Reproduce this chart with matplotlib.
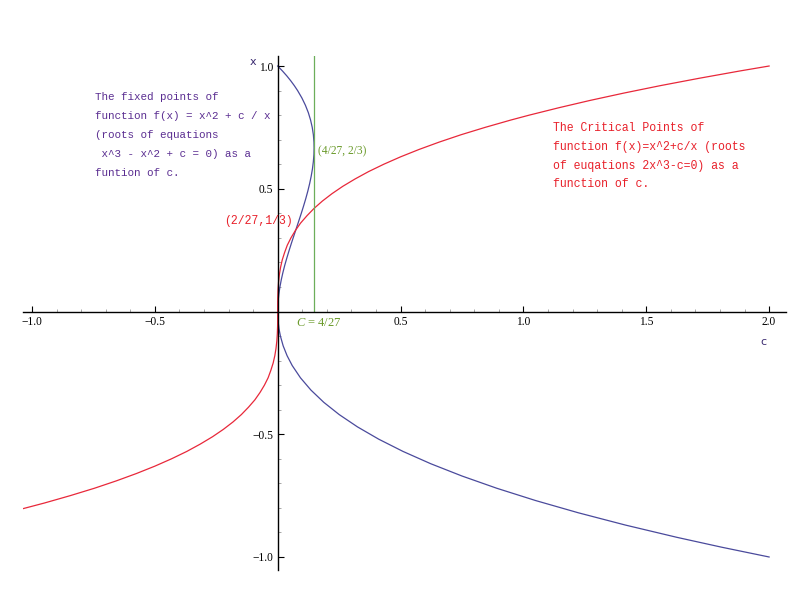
import numpy as np
import matplotlib
matplotlib.use("Agg")
import matplotlib.pyplot as plt
from matplotlib.ticker import MultipleLocator, FixedLocator

#%% Data

# red curve: critical points, x vs c
red_x = [-0.804, -0.78, -0.75, -0.72, -0.69, -0.66, -0.63, -0.60, -0.57, -0.54, -0.51, -0.48, -0.45,
         -0.42, -0.39, -0.36, -0.33, -0.30, -0.27, -0.24, -0.21, -0.18, -0.15, -0.12, -0.09, -0.06, -0.03,
         0.0,
         0.03, 0.06, 0.09, 0.12, 0.15, 0.18, 0.21, 0.24, 0.27, 0.30, 0.33, 0.36, 0.39, 0.42, 0.45,
         0.48, 0.51, 0.54, 0.57, 0.60, 0.63, 0.66, 0.69, 0.72, 0.75, 0.78, 0.80, 0.83, 0.86, 0.89,
         0.92, 0.95, 0.98, 1.0]
red_c = [-1.04, -0.949, -0.844, -0.746, -0.657, -0.575, -0.500, -0.432, -0.370, -0.315, -0.265, -0.221, -0.182,
         -0.148, -0.119, -0.093, -0.072, -0.054, -0.039, -0.028, -0.0185, -0.0117, -0.0068, -0.0035, -0.0015, -0.0004, -0.00005,
         0.0,
         0.00005, 0.0004, 0.0015, 0.0035, 0.0068, 0.0117, 0.0185, 0.028, 0.039, 0.054, 0.072, 0.093, 0.119, 0.148, 0.182,
         0.221, 0.265, 0.315, 0.370, 0.432, 0.500, 0.575, 0.657, 0.746, 0.844, 0.949, 1.024, 1.144, 1.272, 1.410,
         1.557, 1.715, 1.882, 2.0]

# blue curve: fixed points, x vs c
blue_x = [1.00, 0.98, 0.96, 0.94, 0.92, 0.90, 0.87, 0.84, 0.81, 0.78, 0.75, 0.72, 0.69, 0.667, 0.64,
          0.61, 0.58, 0.55, 0.52, 0.49, 0.46, 0.43, 0.40, 0.37, 0.34, 0.31, 0.28, 0.25, 0.22, 0.19,
          0.16, 0.13, 0.10, 0.07, 0.04, 0.02, 0.0, -0.02, -0.04, -0.07, -0.10, -0.14, -0.18, -0.22,
          -0.27, -0.32, -0.37, -0.42, -0.47, -0.52, -0.57, -0.62, -0.67, -0.72, -0.77, -0.82, -0.87,
          -0.92, -0.96, -1.00]
blue_c = [0.0, 0.0192, 0.0369, 0.0530, 0.0677, 0.0810, 0.0984, 0.1129, 0.1247, 0.1338, 0.1406, 0.1452, 0.1476, 0.1481, 0.1475,
          0.1451, 0.1413, 0.1361, 0.1298, 0.1225, 0.1143, 0.1054, 0.0960, 0.0862, 0.0763, 0.0663, 0.0564, 0.0469, 0.0378, 0.0292,
          0.0215, 0.0147, 0.0090, 0.0046, 0.0015, 0.0004, 0.0, 0.0004, 0.0017, 0.0052, 0.0110, 0.0223, 0.0382, 0.0590,
          0.0926, 0.1352, 0.1876, 0.2505, 0.3247, 0.4110, 0.5101, 0.6227, 0.7497, 0.8916, 1.0494, 1.2238, 1.4154,
          1.6251, 1.8063, 2.0]

c_crit = 4 / 27   # green vertical line, drawn from the c axis up

xticks = [-1.0, -0.5, 0.5, 1.0, 1.5, 2.0]
xticklabels = ['\u22121.0', '\u22120.5', '0.5', '1.0', '1.5', '2.0']
yticks = [-1.0, -0.5, 0.5, 1.0]
yticklabels = ['\u22121.0', '\u22120.5', '0.5', '1.0']

#%% Figure

plt.rcParams['mathtext.fontset'] = 'custom'
plt.rcParams['mathtext.it'] = 'Liberation Serif:italic'
plt.rcParams['mathtext.rm'] = 'Liberation Serif'

W, H = 809, 601
fig = plt.figure(figsize=(W / 100, H / 100), dpi=100)
ax = fig.add_axes([22.9 / W, (H - 570) / H, 763.4 / W, 513.8 / H])

ax.plot(blue_c, blue_x, color='#4a4a9c', lw=0.9)
ax.plot(red_c, red_x, color='#e8283a', lw=0.9)
ax.vlines(c_crit, 0, 1.2, color='#6cae5a', lw=0.9)

ax.set_xlim(-1.037, 2.07)
ax.set_ylim(-1.053, 1.04)

for s in ['top', 'right']:
    ax.spines[s].set_visible(False)
ax.spines['left'].set_position(('data', 0))
ax.spines['bottom'].set_position(('data', 0))
ax.spines['left'].set_linewidth(1.0)
ax.spines['bottom'].set_linewidth(1.0)

ax.xaxis.set_major_locator(FixedLocator(xticks))
ax.yaxis.set_major_locator(FixedLocator(yticks))
ax.xaxis.set_minor_locator(MultipleLocator(0.1))
ax.yaxis.set_minor_locator(MultipleLocator(0.1))
ax.set_xticklabels(xticklabels)
ax.set_yticklabels(yticklabels)
ax.tick_params(which='major', direction='in', length=4, width=0.8, labelsize=8.3, pad=3)
ax.tick_params(which='minor', direction='in', length=2.5, width=0.6, color='#999999')
for lab in ax.get_xticklabels() + ax.get_yticklabels():
    lab.set_fontfamily('Liberation Serif')

ax.patch.set_alpha(0)

#%% Texts (figure pixel positions)

def ftext(px, py, s, **kw):
    fig.text(px / W, 1 - py / H, s, va='center', **kw)

ftext(250, 62, 'x', color='#3a2a70', fontsize=8, family='DejaVu Sans')
ftext(760, 342, 'c', color='#3a2a70', fontsize=8, family='DejaVu Sans')

purple = '#5a2d91'
left_lines = ['The fixed points of',
              'function f(x) = x^2 + c / x',
              '(roots of equations',
              ' x^3 - x^2 + c = 0) as a',
              'funtion of c.']
for i, s in enumerate(left_lines):
    ftext(95, 97.3 + 18.8 * i, s, color=purple, fontsize=7.8, family='Liberation Mono')

red = '#e8202a'
right_lines = ['The Critical Points of',
               'function f(x)=x^2+c/x (roots',
               'of euqations 2x^3-c=0) as a',
               'function of c.']
for i, s in enumerate(right_lines):
    ftext(553, 128.3 + 18.7 * i, s, color=red, fontsize=8.3, family='Liberation Mono')

ftext(224, 221, '(2/27,1/3)', color=red, fontsize=8.3, family='Liberation Mono')

green = '#6a9a2a'
ftext(318, 151, '(4/27, 2/3)', color=green, fontsize=8.3, family='Liberation Serif')
ftext(296, 323, '$C$ = 4/27', color=green, fontsize=9, family='Liberation Serif')

fig.savefig('out.png', dpi=100)
